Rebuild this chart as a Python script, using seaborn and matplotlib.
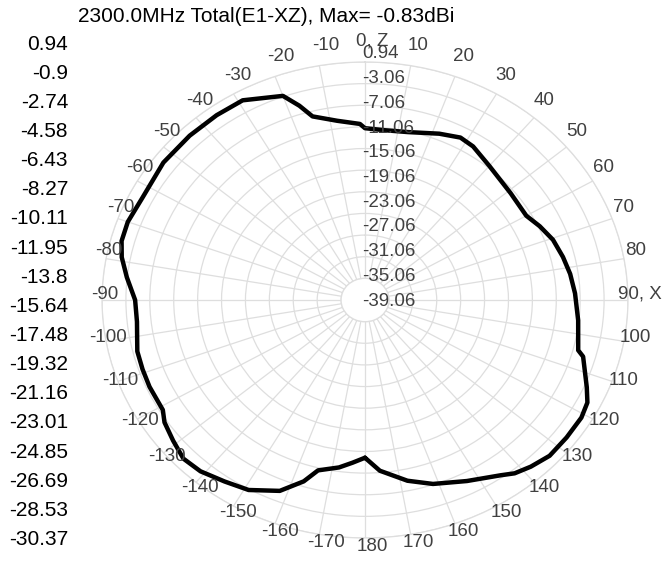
import numpy as np
import pandas as pd
import matplotlib
matplotlib.use("Agg")
import matplotlib.pyplot as plt
import seaborn as sns

# ---- data ----
title = "2300.0MHz Total(E1-XZ), Max= -0.83dBi"
scale_labels = ["0.94", "-0.9", "-2.74", "-4.58", "-6.43", "-8.27", "-10.11", "-11.95",
                "-13.8", "-15.64", "-17.48", "-19.32", "-21.16", "-23.01", "-24.85",
                "-26.69", "-28.53", "-30.37"]
r_ticks = [0.94, -3.06, -7.06, -11.06, -15.06, -19.06, -23.06, -27.06, -31.06, -35.06, -39.06]
theta_tick_deg = list(range(0, 360, 10))
theta_tick_labels = ["0, Z" if a == 0 else "90, X" if a == 90 else
                     str(a) if a <= 180 else str(a - 360) for a in theta_tick_deg]

angle_deg = [-180, -176, -172, -166, -163, -158, -151, -145, -139, -134, -129, -124,
             -121, -114, -109, -104, -96, -90, -84, -79, -75, -70, -63, -53, -44, -36,
             -29, -20, -17, -14.5, -8, -1.5, 0, 6, 13, 22, 28, 32.5, 40, 51, 60, 65,
             70.5, 76.5, 82, 88, 96, 104.6, 106, 113.5, 117, 121, 127, 133, 138, 142,
             145, 153, 161.5, 168, 175.5, 180]
gain_dbi = [-13.9, -12.9, -11.8, -10.6, -8.0, -5.0, -2.9, -2.1, -1.1, -0.83, -1.75, -2.6,
            -3.6, -3.6, -3.7, -3.8, -4.7, -4.6, -3.0, -1.6, -0.9, -0.83, -1.3, -0.83, -0.83, -0.83,
            -0.85, -2.9, -5.5, -8.0, -9.6, -10.5, -11.3, -11.5, -11.2, -9.9, -9.05, -9.4, -10.7, -11.7, -11.9, -10.8,
            -9.7, -9.0, -8.4, -7.9, -7.2, -6.2, -5.1, -2.6, -1.3, -0.83, -0.83, -0.83, -1.6, -2.4,
            -3.5, -5.5, -7.2, -8.9, -11.4, -13.9]

df = pd.DataFrame({"theta": np.deg2rad(angle_deg), "gain": gain_dbi})

# ---- style ----
sns.set_theme(style="white")
plt.rcParams["font.family"] = ["Liberation Sans", "DejaVu Sans"]

W, H = 662, 563
fig = plt.figure(figsize=(W / 100, H / 100), dpi=100)
fig.patch.set_facecolor("white")

def px_rect(cx, cy, rx, ry):
    return [(cx - rx) / W, (H - cy - ry) / H, 2 * rx / W, 2 * ry / H]

grid_c = "#dedede"
lab_c = "#404040"

# main (elliptical) polar axes
ax = fig.add_axes(px_rect(365, 300, 263, 238), projection="polar")
ax.set_aspect("auto")
ax.set_theta_zero_location("N")
ax.set_theta_direction(-1)
sns.lineplot(data=df, x="theta", y="gain", ax=ax, color="black", lw=3.2, sort=False,
             estimator=None)
ax.set_rorigin(-43.06)
ax.set_ylim(-39.06, 0.94)
ax.set_yticks(r_ticks)
ax.set_yticklabels([])
ax.set_xticks(np.deg2rad(theta_tick_deg))
ax.set_xticklabels([])
ax.set_xlabel("")
ax.set_ylabel("")
ax.grid(True, color=grid_c, lw=0.9)
for s in ax.spines.values():
    s.set_color(grid_c)
    s.set_linewidth(0.9)
ax.tick_params(length=0)

# label axes for angle labels
ax2 = fig.add_axes(px_rect(372, 294, 258, 243), projection="polar")
ax2.set_aspect("auto")
ax2.set_theta_zero_location("N")
ax2.set_theta_direction(-1)
ax2.set_xticks(np.deg2rad(theta_tick_deg))
ax2.set_xticklabels(theta_tick_labels)
ax2.set_yticks([])
ax2.grid(False)
ax2.patch.set_alpha(0)
for s in ax2.spines.values():
    s.set_visible(False)
ax2.tick_params(axis="x", pad=0, length=0, labelsize=13.5, labelcolor=lab_c)

# radial labels stacked along the top spoke
for k, v in enumerate(r_ticks):
    fig.text(362 / W, 1 - (54 + 24.7 * k) / H, f"{v:.2f}", ha="left", va="center",
             fontsize=13.5, color=lab_c)

# left scale column
for k, t in enumerate(scale_labels):
    fig.text(68 / W, 1 - (44 + 29.15 * k) / H, t, ha="right", va="center",
             fontsize=15, color="black")

fig.text(78 / W, 1 - 16 / H, title, ha="left", va="center", fontsize=15, color="black")

fig.savefig("out.png", dpi=100)
